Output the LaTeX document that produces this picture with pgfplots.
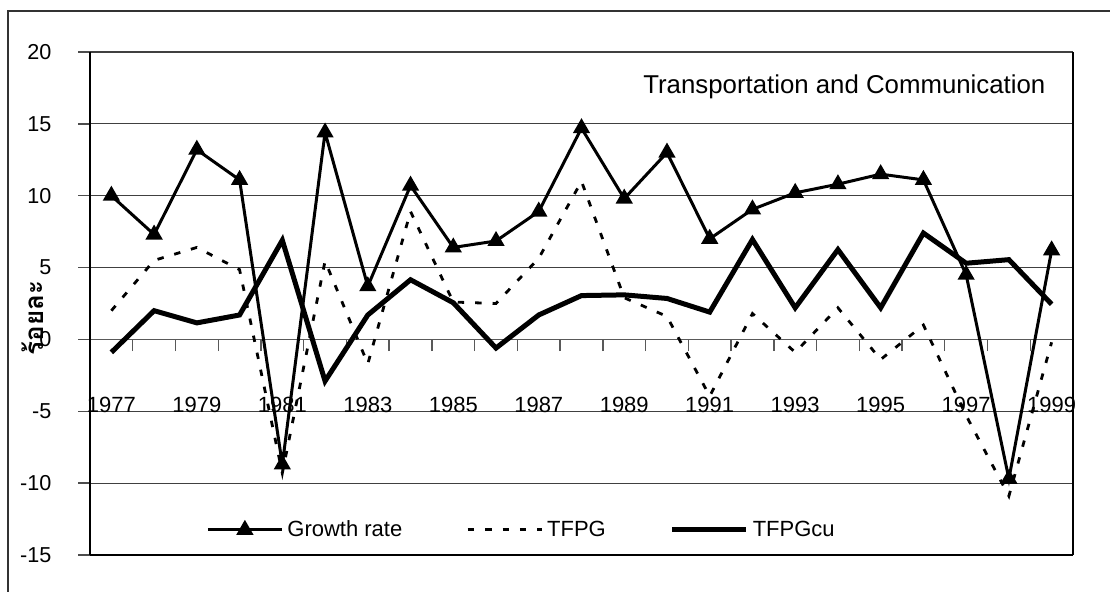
\documentclass[border=0pt]{standalone}
\usepackage{fontspec}
\setmainfont{Liberation Sans}
\newfontfamily\thaifont[Script=Thai]{Loma}
\usepackage{pgfplots}
\pgfplotsset{compat=1.18}
\pgfplotstableread{
yr growth tfpg tfpgcu
0  10.0   2.0  -0.9
1   7.3   5.5   2.0
2  13.2   6.4   1.15
3  11.1   4.85  1.7
4  -8.7  -9.3   6.9
5  14.4   5.45 -2.9
6   3.7  -1.7   1.7
7  10.7   8.9   4.15
8   6.4   2.6   2.55
9   6.85  2.5  -0.6
10  8.9   5.65  1.7
11 14.7  11.0   3.05
12  9.8   2.9   3.1
13 13.0   1.6   2.85
14  7.0  -3.95  1.9
15  9.05  1.8   6.95
16 10.2  -0.9   2.2
17 10.8   2.2   6.25
18 11.5  -1.4   2.2
19 11.1   1.0   7.4
20  4.5  -5.3   5.3
21 -9.7 -10.9   5.55
22  6.2  -0.2   2.45
}\datatable
\begin{document}
\begin{tikzpicture}
\useasboundingbox (-45pt,-18.5pt) rectangle (510pt,277.5pt);
\draw[line width=1pt, black!80] (-41pt,-18.5pt) -- (-41pt,272pt) -- (510pt,272pt);
\begin{axis}[
  scale only axis, width=491.5pt, height=251.5pt,
  at={(0pt,0pt)}, anchor=south west,
  clip=false,
  xmin=-0.5, xmax=22.5, ymin=-15, ymax=20,
  axis x line*=middle, axis y line*=left,
  x axis line style={-, black!65, line width=0.7pt},
  y axis line style={-, black, line width=0.7pt},
  tick align=outside,
  major tick length=5.8pt,
  xtick={0.5,1.5,...,22.5},
  xticklabels={},
  xtick style={black!65, line width=0.7pt},
  extra x ticks={0,2,...,22},
  extra x tick labels={1977,1979,1981,1983,1985,1987,1989,1991,1993,1995,1997,1999},
  extra x tick style={major tick length=0pt, tick style={draw=none}},
  xticklabel style={anchor=center, yshift=-33pt, font=\fontsize{11}{13}\selectfont},
  ytick={-15,-10,...,20},
  ytick style={black!70, line width=0.7pt},
  yticklabel style={anchor=east, xshift=-10pt, font=\fontsize{10.8}{12}\selectfont},
  /pgf/number format/assume math mode=true,
  ymajorgrids,
  grid style={black!75, line width=0.6pt},
  ylabel={\thaifont\bfseries ร้อยละ},
  ylabel style={at={(axis description cs:-0.058,0.471)}, anchor=center, font=\fontsize{13}{15}\selectfont},
  legend columns=3,
  legend cell align=left,
  legend style={at={(0.118,0.05)}, anchor=west, draw=none, fill=none,
    inner xsep=0pt, font=\fontsize{11}{13}\selectfont,
    /tikz/every even column/.append style={column sep=30pt}},
  legend image code/.code={\draw[mark repeat=2,mark phase=2,#1] plot coordinates {(0pt,0pt) (18.5pt,0pt) (37pt,0pt)};},
]
\addplot[black, line width=1.5pt, mark=triangle*, mark size=3.5pt, mark options={solid}] table[x=yr, y=growth] {\datatable};
\addlegendentry{Growth rate}
\addplot[black, line width=1.4pt, dash pattern=on 3.2pt off 5.5pt] table[x=yr, y=tfpg] {\datatable};
\addlegendentry{TFPG}
\addplot[black, line width=2.5pt] table[x=yr, y=tfpgcu] {\datatable};
\addlegendentry{TFPGcu}
\draw[black, line width=1.3pt] (rel axis cs:0,0) -- (rel axis cs:1,0);
\draw[black, line width=0.6pt] (rel axis cs:1,0) -- (rel axis cs:1,1);
\node[font=\fontsize{12.9}{15}\selectfont] at (rel axis cs:0.7674,0.931) {Transportation and Communication};
\end{axis}
\end{tikzpicture}
\end{document}
